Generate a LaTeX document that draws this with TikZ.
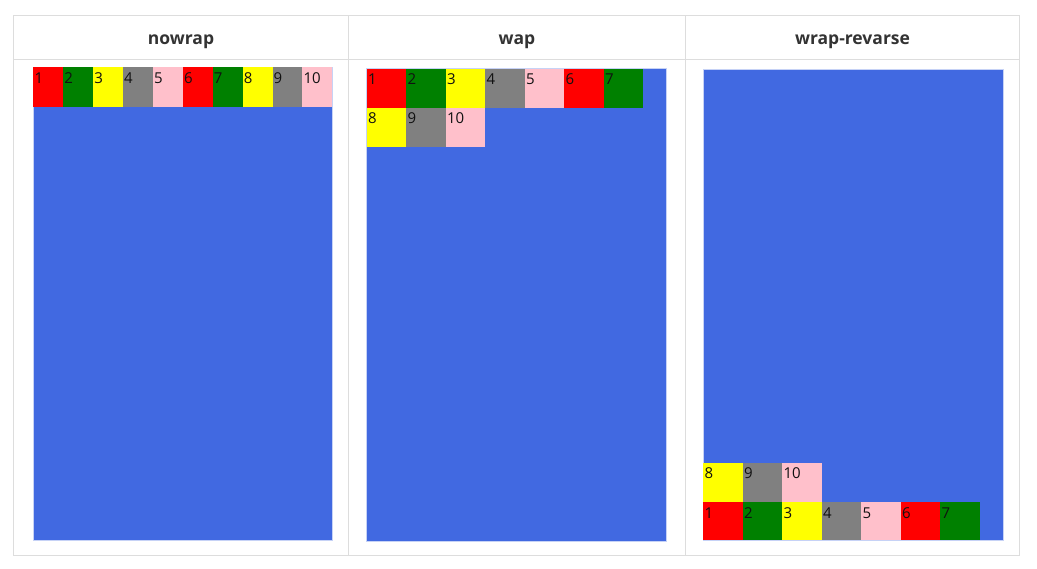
\documentclass[tikz,border=0pt]{standalone}
\usepackage{fontspec}
\setmainfont{Open Sans}
\definecolor{gridline}{HTML}{DDDDDD}
\definecolor{hdr}{HTML}{333333}
\definecolor{royal}{HTML}{4169E1}
\definecolor{cR}{HTML}{FF0000}
\definecolor{cG}{HTML}{008000}
\definecolor{cY}{HTML}{FFFF00}
\definecolor{cK}{HTML}{808080}
\definecolor{cP}{HTML}{FFC0CB}
\definecolor{numc}{HTML}{111111}
\tikzset{
  itembox/.style={draw=none, inner sep=0pt, outer sep=0pt, anchor=north west, rectangle},
  num/.style={anchor=base west, inner sep=0pt, font=\fontsize{15}{16}\selectfont, text=numc},
  header/.style={font=\fontsize{17.5}{19}\selectfont\bfseries, text=hdr, anchor=base},
  container/.style={fill=royal, draw=royal!30!white, line width=0.6pt, inner sep=0pt, outer sep=0pt, anchor=north west, rectangle},
  grid/.style={draw=gridline, line width=1pt}
}
\begin{document}
\begin{tikzpicture}[x=1pt,y=-1pt]
\useasboundingbox (0,0) rectangle (1037,569);
% table
\draw[grid] (13.5,15.5) rectangle (1019.5,555.5);
\draw[grid] (13.5,59.5) -- (1019.5,59.5);
\draw[grid] (348.5,15.5) -- (348.5,555.5);
\draw[grid] (685.5,15.5) -- (685.5,555.5);
% headers
\node[header] (h1) at (181,44.5) {nowrap};
\node[header] (h2) at (517,44.5) {wap};
\node[header] (h3) at (852.5,44.5) {wrap-revarse};
% containers
\node[container, minimum width=299pt, minimum height=473pt] (box1) at (33.3,67.3) {};
\node[container, minimum width=300pt, minimum height=472.5pt] (box2) at (366.3,68.5) {};
\node[container, minimum width=299.5pt, minimum height=471pt] (box3) at (703.3,69) {};
% panel 1: nowrap
\foreach \i/\c in {1/cR,2/cG,3/cY,4/cK,5/cP,6/cR,7/cG,8/cY,9/cK,10/cP}{
  \node[itembox, fill=\c, minimum width=29.9pt, minimum height=39.5pt] (a\i) at ({33.3+29.9*(\i-1)},67.3) {};
  \node[num] (na\i) at ([xshift=1pt,yshift=-16pt]a\i.north west) {\i};
}
% panel 2: wrap
\foreach \i/\c in {1/cR,2/cG,3/cY,4/cK,5/cP,6/cR,7/cG}{
  \node[itembox, fill=\c, minimum width=39.5pt, minimum height=39.4pt] (b\i) at ({366.8+39.5*(\i-1)},68.6) {};
  \node[num] (nb\i) at ([xshift=1pt,yshift=-16pt]b\i.north west) {\i};
}
\foreach \i/\c/\k in {8/cY/0,9/cK/1,10/cP/2}{
  \node[itembox, fill=\c, minimum width=39.5pt, minimum height=39pt] (b\i) at ({366.8+39.5*\k},108) {};
  \node[num] (nb\i) at ([xshift=1pt,yshift=-16pt]b\i.north west) {\i};
}
% panel 3: wrap-reverse
\foreach \i/\c in {1/cR,2/cG,3/cY,4/cK,5/cP,6/cR,7/cG}{
  \node[itembox, fill=\c, minimum width=39.5pt, minimum height=38pt] (c\i) at ({703.3+39.5*(\i-1)},502.3) {};
  \node[num] (nc\i) at ([xshift=1pt,yshift=-16pt]c\i.north west) {\i};
}
\foreach \i/\c/\k in {8/cY/0,9/cK/1,10/cP/2}{
  \node[itembox, fill=\c, minimum width=39.5pt, minimum height=39.6pt] (c\i) at ({703.3+39.5*\k},462.7) {};
  \node[num] (nc\i) at ([xshift=1pt,yshift=-16pt]c\i.north west) {\i};
}
\end{tikzpicture}
\end{document}
